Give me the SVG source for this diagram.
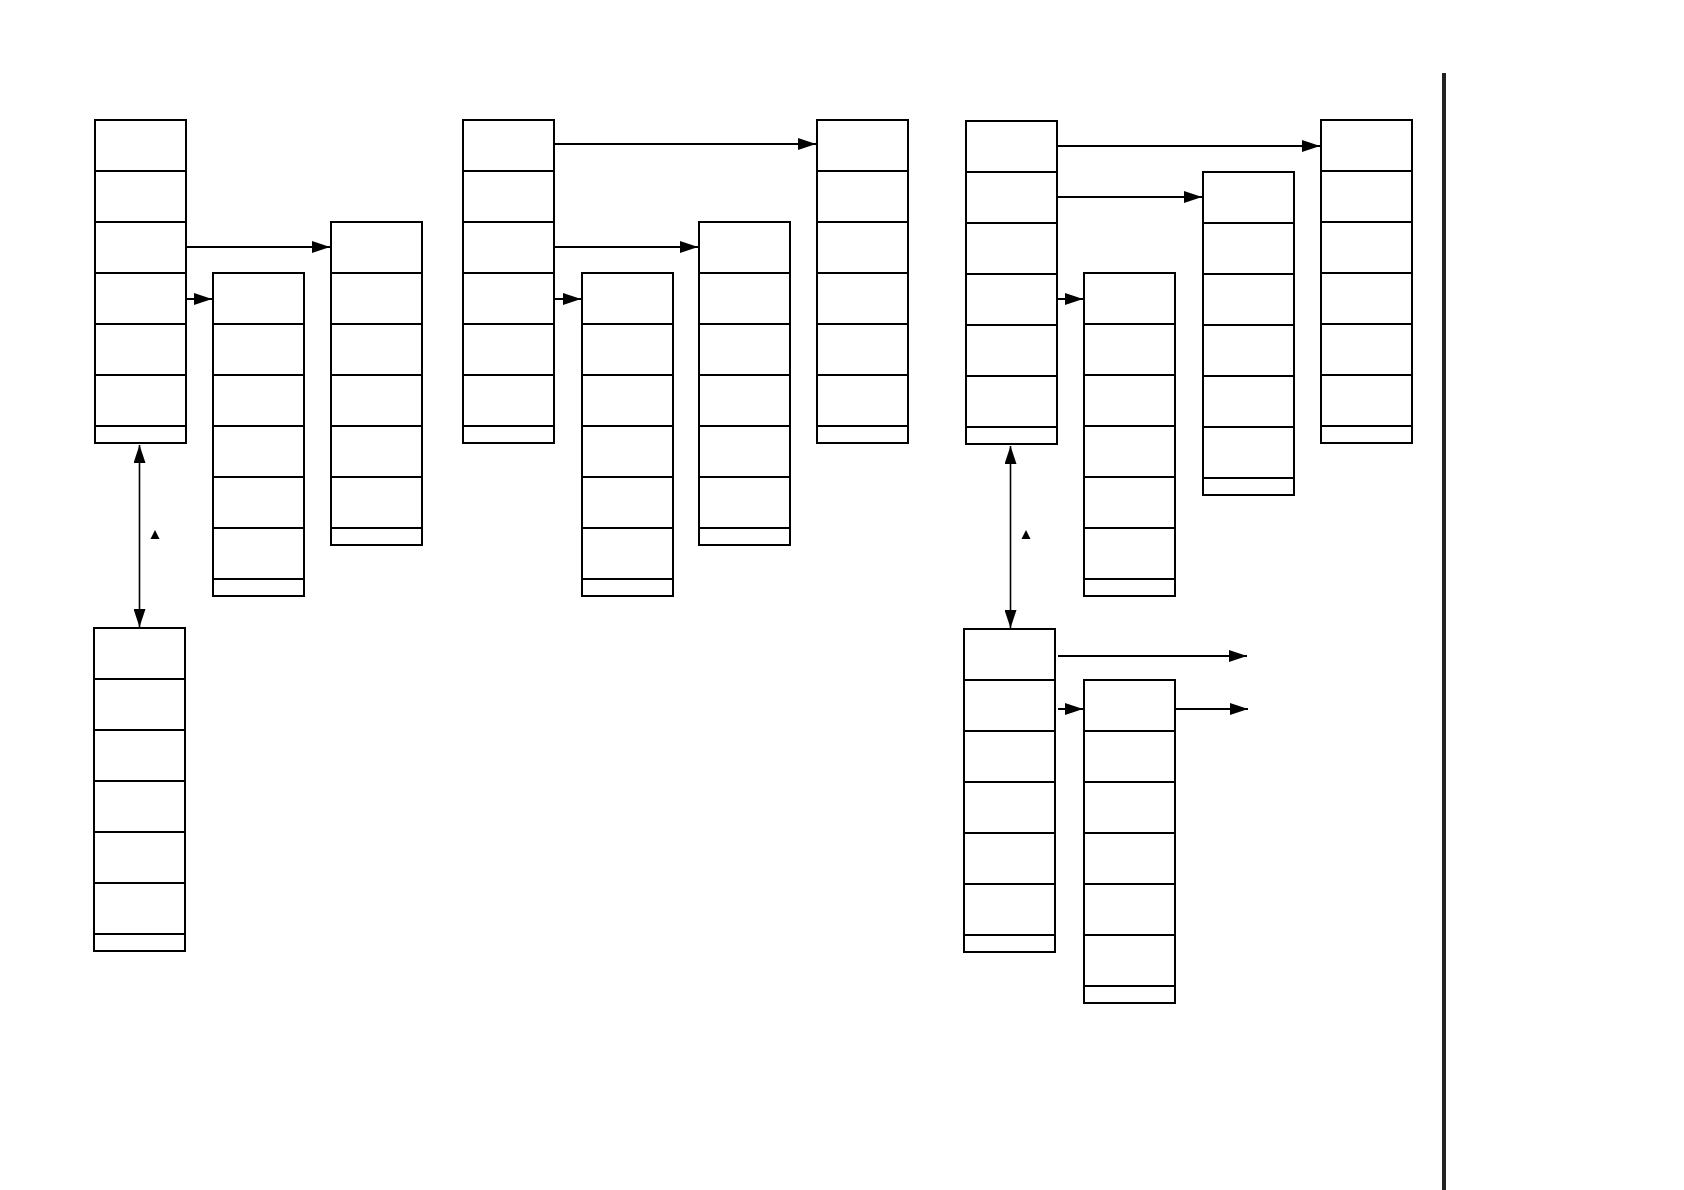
<svg xmlns="http://www.w3.org/2000/svg" xmlns:xlink="http://www.w3.org/1999/xlink" width="1684" height="1190" viewBox="0 0 1684 1190">
<style>
.box{fill:#fff;stroke:#000;stroke-width:2}
.div{stroke:#000;stroke-width:2}
.conn{fill:none;stroke:#000;stroke-width:2}
.dbl{fill:none;stroke:#000;stroke-width:1.6}
</style>
<defs>
<marker id="ah" markerUnits="userSpaceOnUse" markerWidth="18" markerHeight="12" refX="18" refY="6" orient="auto-start-reverse">
<path d="M0,0 L18,6 L0,12 z" fill="#000"/>
</marker>
<g id="stack">
<rect class="box" x="0" y="0" width="91" height="323"/>
<line class="div" x1="0" y1="51" x2="91" y2="51"/>
<line class="div" x1="0" y1="102" x2="91" y2="102"/>
<line class="div" x1="0" y1="153" x2="91" y2="153"/>
<line class="div" x1="0" y1="204" x2="91" y2="204"/>
<line class="div" x1="0" y1="255" x2="91" y2="255"/>
<line class="div" x1="0" y1="306" x2="91" y2="306"/>
</g>
</defs>
<rect x="0" y="0" width="1684" height="1190" fill="#fff"/>
<g id="nodeA"><use xlink:href="#stack" href="#stack" x="95" y="120"/></g>
<g id="nodeB"><use xlink:href="#stack" href="#stack" x="213" y="273"/></g>
<g id="nodeC"><use xlink:href="#stack" href="#stack" x="331" y="222"/></g>
<g id="nodeA2"><use xlink:href="#stack" href="#stack" x="94" y="628"/></g>
<g id="nodeD"><use xlink:href="#stack" href="#stack" x="463" y="120"/></g>
<g id="nodeE"><use xlink:href="#stack" href="#stack" x="582" y="273"/></g>
<g id="nodeF"><use xlink:href="#stack" href="#stack" x="699" y="222"/></g>
<g id="nodeG"><use xlink:href="#stack" href="#stack" x="817" y="120"/></g>
<g id="nodeH"><use xlink:href="#stack" href="#stack" x="966" y="121"/></g>
<g id="nodeI"><use xlink:href="#stack" href="#stack" x="1084" y="273"/></g>
<g id="nodeJ"><use xlink:href="#stack" href="#stack" x="1203" y="172"/></g>
<g id="nodeK"><use xlink:href="#stack" href="#stack" x="1321" y="120"/></g>
<g id="nodeL"><use xlink:href="#stack" href="#stack" x="964" y="629"/></g>
<g id="nodeM"><use xlink:href="#stack" href="#stack" x="1084" y="680"/></g>
<g id="connectors">
<line class="conn" x1="186" y1="247" x2="330" y2="247" marker-end="url(#ah)"/>
<line class="conn" x1="186" y1="299" x2="212" y2="299" marker-end="url(#ah)"/>
<line class="dbl" x1="139.5" y1="445" x2="139.5" y2="627" marker-start="url(#ah)" marker-end="url(#ah)"/>
<line class="conn" x1="554" y1="144" x2="816" y2="144" marker-end="url(#ah)"/>
<line class="conn" x1="554" y1="247" x2="698" y2="247" marker-end="url(#ah)"/>
<line class="conn" x1="554" y1="299" x2="581" y2="299" marker-end="url(#ah)"/>
<line class="conn" x1="1057" y1="146" x2="1320" y2="146" marker-end="url(#ah)"/>
<line class="conn" x1="1057" y1="197" x2="1202" y2="197" marker-end="url(#ah)"/>
<line class="conn" x1="1057" y1="299" x2="1083" y2="299" marker-end="url(#ah)"/>
<line class="dbl" x1="1010.5" y1="446" x2="1010.5" y2="628" marker-start="url(#ah)" marker-end="url(#ah)"/>
<line class="conn" x1="1058" y1="656" x2="1247" y2="656" marker-end="url(#ah)"/>
<line class="conn" x1="1058" y1="709" x2="1083" y2="709" marker-end="url(#ah)"/>
<line class="conn" x1="1176" y1="709" x2="1248" y2="709" marker-end="url(#ah)"/>
</g>
<polygon points="155,530 159.5,539 150.5,539" fill="#000"/>
<polygon points="1026,530 1030.5,539 1021.5,539" fill="#000"/>
<line x1="1444" y1="73" x2="1444" y2="1190" stroke="#222" stroke-width="4"/>
</svg>
